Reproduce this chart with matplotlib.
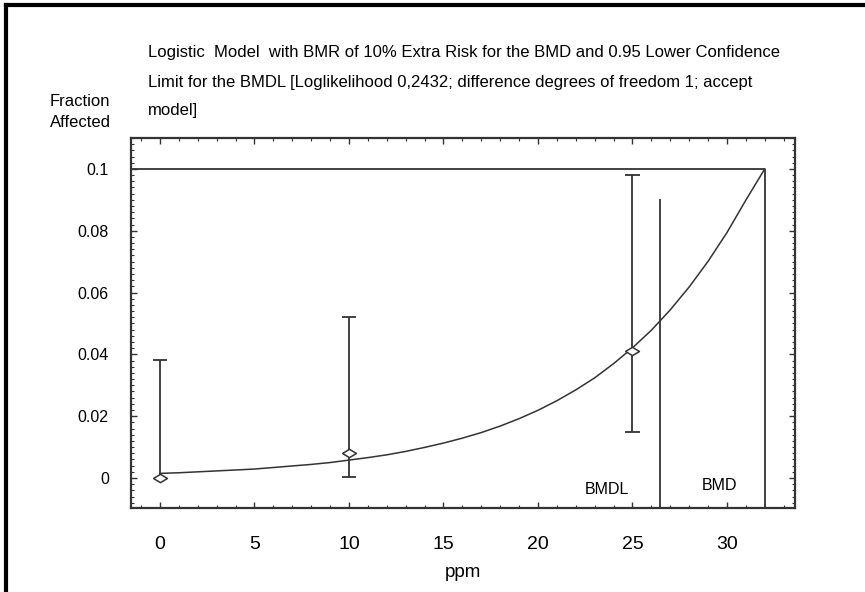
import matplotlib
matplotlib.use("Agg")
import matplotlib.pyplot as plt
from matplotlib.ticker import AutoMinorLocator
from matplotlib.lines import Line2D

plt.rcParams['font.family'] = ['Liberation Sans', 'DejaVu Sans']

# observed doses, fraction affected and confidence limits
dose = [0, 10, 25]
frac = [0.0, 0.0082, 0.041]
lower = [0.0, 0.0002, 0.0149]
upper = [0.0383, 0.052, 0.098]

# fitted logistic curve
curve_x = list(range(0, 33))
curve_y = [0.0015, 0.0017, 0.0020, 0.0023, 0.0026, 0.0029, 0.0034, 0.0039,
           0.0044, 0.0050, 0.0058, 0.0066, 0.0075, 0.0086, 0.0099, 0.0113,
           0.0129, 0.0147, 0.0168, 0.0192, 0.0219, 0.0250, 0.0285, 0.0324,
           0.0370, 0.0421, 0.0478, 0.0544, 0.0618, 0.0701, 0.0794, 0.0899,
           0.1000]

bmr = 0.1
bmd = 32.0
bmdl = 26.45
bmdl_top = 0.0903

x_ticks = [0, 5, 10, 15, 20, 25, 30]
y_ticks = [0, 0.02, 0.04, 0.06, 0.08, 0.1]
y_labels = ['0', '0.02', '0.04', '0.06', '0.08', '0.1']

title_lines = ["Logistic  Model  with BMR of 10% Extra Risk for the BMD and 0.95 Lower Confidence",
               "Limit for the BMDL [Loglikelihood 0,2432; difference degrees of freedom 1; accept",
               "model]"]

fig = plt.figure(figsize=(8.65, 5.92), dpi=100)
ax = fig.add_axes([131/865, 1-508/592, 664/865, 370/592])

lc = '#333333'
ax.plot(curve_x, curve_y, color=lc, lw=1.1)

ax.vlines(dose, lower, upper, color=lc, lw=1.3)
ax.hlines(upper, [d - 0.38 for d in dose], [d + 0.38 for d in dose], color=lc, lw=1.3)
ax.hlines(lower[1:], [d - 0.38 for d in dose[1:]], [d + 0.38 for d in dose[1:]], color=lc, lw=1.3)

diamond = [(-1, 0), (0, 0.6), (1, 0), (0, -0.6), (-1, 0)]
ax.plot(dose, frac, linestyle='none', marker=diamond, markersize=10,
        markerfacecolor='white', markeredgecolor=lc, markeredgewidth=1.1)

xmin, xmax = -1.53, 33.6
ymin, ymax = -0.0097, 0.110

ax.hlines(bmr, xmin, bmd, color=lc, lw=1.3)
ax.vlines(bmd, ymin, bmr, color=lc, lw=1.3)
ax.vlines(bmdl, ymin, bmdl_top, color=lc, lw=1.3)

ax.text(23.65, -0.0036, 'BMDL', ha='center', va='center', fontsize=11.5)
ax.text(29.6, -0.0023, 'BMD', ha='center', va='center', fontsize=11.5)

ax.set_xlim(xmin, xmax)
ax.set_ylim(ymin, ymax)
ax.set_xticks(x_ticks)
ax.set_yticks(y_ticks)
ax.set_yticklabels(y_labels)
ax.xaxis.set_minor_locator(AutoMinorLocator(5))
ax.yaxis.set_minor_locator(AutoMinorLocator(10))
ax.tick_params(which='both', direction='in', top=True, right=True, color=lc)
ax.tick_params(which='major', length=4, width=1)
ax.tick_params(which='minor', length=2, width=0.8)
ax.tick_params(axis='x', labelsize=14, pad=20)
ax.tick_params(axis='y', labelsize=11.5, pad=16)
for s in ax.spines.values():
    s.set_linewidth(1.6)
    s.set_color(lc)

ax.set_xlabel('ppm', fontsize=13.5, labelpad=8)

for i, line in enumerate(title_lines):
    fig.text(148/865, 1-(53 + 29*i)/592, line, ha='left', va='center', fontsize=12)
fig.text(80/865, 1-101/592, 'Fraction', ha='center', va='center', fontsize=12)
fig.text(80/865, 1-122/592, 'Affected', ha='center', va='center', fontsize=12)

# frame around the picture
fig.add_artist(Line2D([6/865, 1], [1-5/592, 1-5/592], color='black', lw=3))
fig.add_artist(Line2D([6/865, 6/865], [0, 1-5/592], color='black', lw=3))

fig.savefig('out.png', dpi=100)
